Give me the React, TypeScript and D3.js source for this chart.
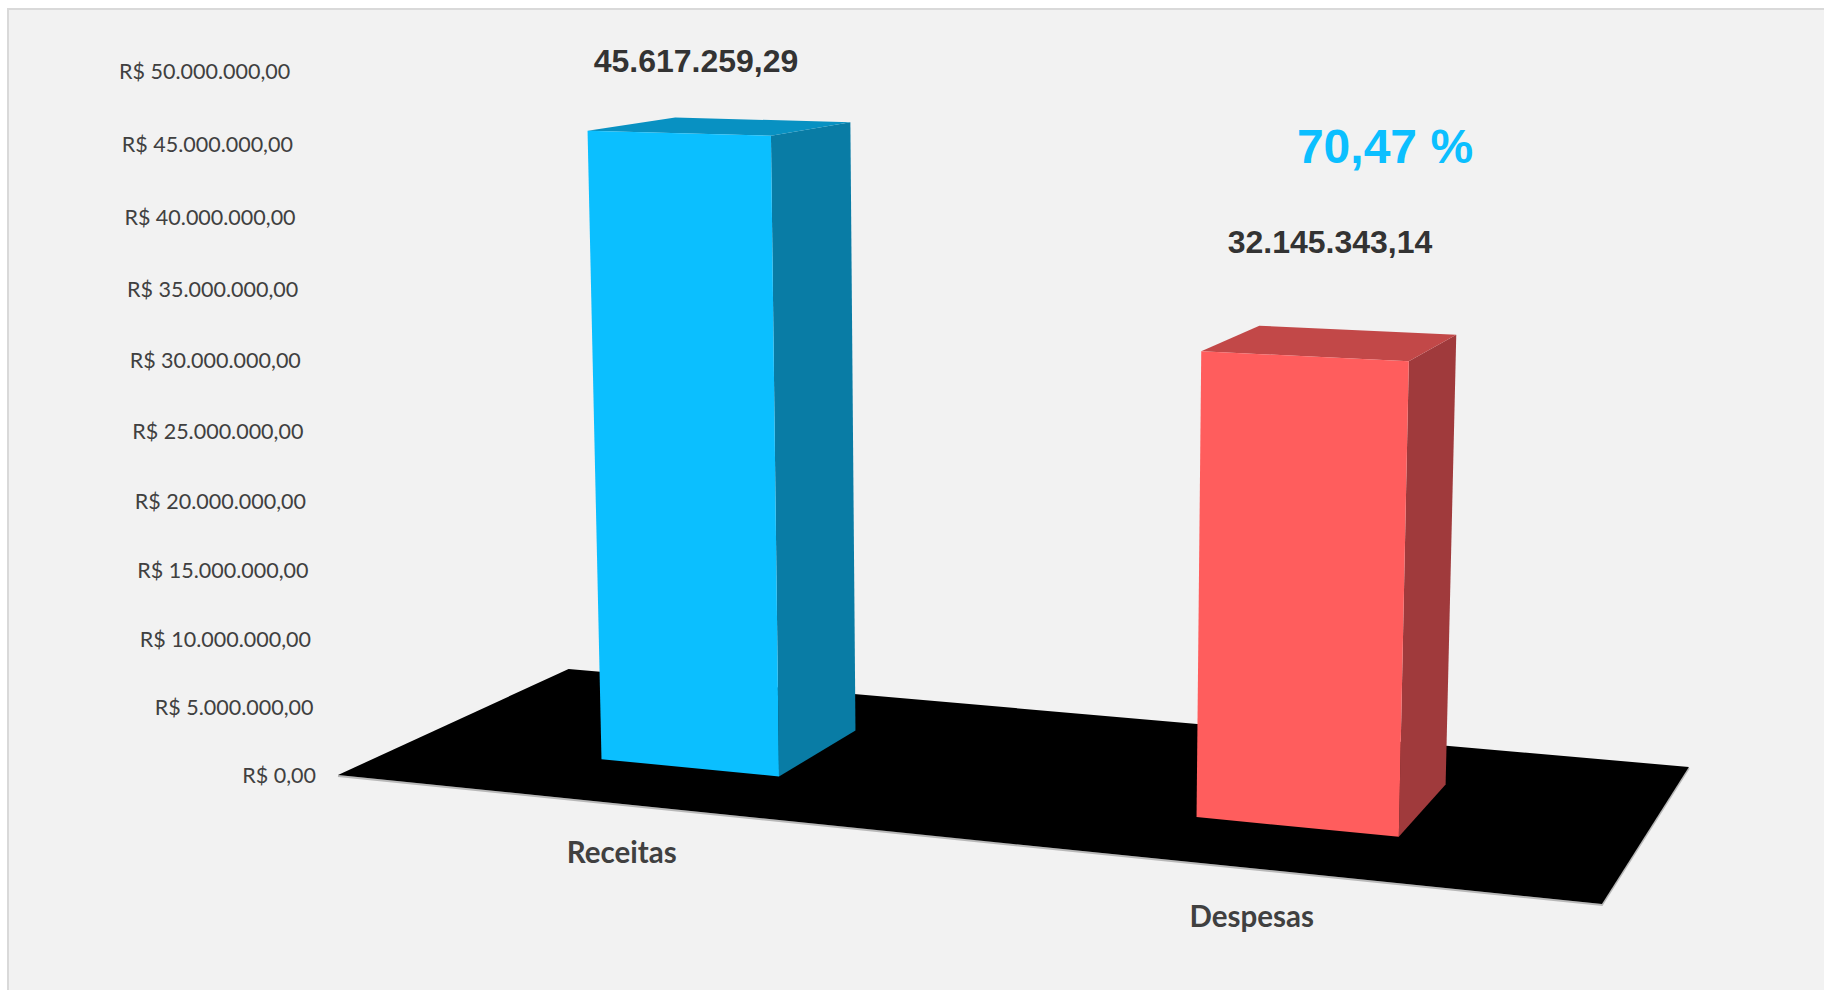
import React from "react";
import * as d3 from "d3";

const categories = ["Receitas", "Despesas"];
const seriesValues = [45617259.29, 32145343.14];
const valueLabels = ["45.617.259,29", "32.145.343,14"];
const tickValues = [0, 5e6, 10e6, 15e6, 20e6, 25e6, 30e6, 35e6, 40e6, 45e6, 50e6];
const ratioLabel = "70,47 %";

const frontColors = ["#0bbfff", "#ff5d5d"];
const topColors = ["#0891c2", "#c24848"];
const sideColors = ["#097ca5", "#a03a3c"];
const labelAnchors: [number, number][] = [[696, 72], [1330, 252.5]];

const W = 1824;
const H = 990;

// floor plane: unit square (u along categories, w in depth) mapped to the screen by a homography
const hg = { a: 1059.7, b: 309.1, c: 338, d: 13.7, e: -13.6, f: 775, g: -0.1275, h: 0.1381 };
const floorPoint = (u: number, w: number): [number, number] => {
  const k = hg.g * u + hg.h * w + 1;
  return [(hg.a * u + hg.b * w + hg.c) / k, (hg.d * u + hg.e * w + hg.f) / k];
};

const bandU = d3.scaleBand<string>().domain(categories).range([0.0012, 1.0012]).paddingInner(0.688).paddingOuter(0.344);
const depth = d3.scaleLinear().domain([0, 1]).range([0.295, 0.695]);
const unitValue = d3.scaleLinear().domain([0, 50e6]).range([0, 1]);

// vertical rise on the reference edge, foreshortened towards the top
const rise = (v: number) => {
  const t = unitValue(v);
  return (672.7 * t) / (1 - 0.0444 * t);
};

// lift a floor point by a value, with the perspective of the vertical lines
const lift = ([x, y]: [number, number], v: number): [number, number] => {
  const dy = rise(v) * (1 + (y - hg.f) * 0.0011);
  return [x + ((x - 1010) * dy) / 18400, y - dy];
};

const poly = (pts: [number, number][]) => (d3.line()(pts) as string) + "Z";

const brl = d3
  .formatLocale({ decimal: ",", thousands: ".", grouping: [3], currency: ["R$ ", ""] })
  .format("$,.2f");

export default function App() {
  const floor = [floorPoint(0, 0), floorPoint(1, 0), floorPoint(1, 1), floorPoint(0, 1)];
  const axisOrigin = floorPoint(0, 0);
  return (
    <svg width={W} height={H} viewBox={`0 0 ${W} ${H}`} style={{ position: "absolute", left: 0, top: 0, display: "block" }}>
      <rect width={W} height={H} fill="#ffffff" />
      <rect x={8} y={9} width={W} height={H} fill="#f2f2f2" stroke="#d9d9d9" strokeWidth={2} />

      {tickValues.map((v) => {
        const [x, y] = lift(axisOrigin, v);
        return (
          <text key={v} x={x - 22} y={y + 8} textAnchor="end" fontFamily="Lato, sans-serif" fontSize={21.5} fill="#404040">
            {brl(v)}
          </text>
        );
      })}

      <path d={d3.line()([floor[0], floor[1], floor[2]]) as string} transform="translate(0,1)" fill="none" stroke="#b8b8b8" strokeWidth={2} />
      <path d={poly(floor)} fill="#000000" />

      {categories.map((c, i) => {
        const u0 = bandU(c) as number;
        const u1 = u0 + bandU.bandwidth();
        const fl = floorPoint(u0, depth(0));
        const fr = floorPoint(u1, depth(0));
        const br = floorPoint(u1, depth(1));
        const bl = floorPoint(u0, depth(1));
        const v = seriesValues[i];
        return (
          <g key={c}>
            <path d={poly([fr, br, lift(br, v), lift(fr, v)])} fill={sideColors[i]} />
            <path d={poly([lift(fl, v), lift(fr, v), lift(br, v), lift(bl, v)])} fill={topColors[i]} />
            <path d={poly([fl, fr, lift(fr, v), lift(fl, v)])} fill={frontColors[i]} />
          </g>
        );
      })}

      {categories.map((c) => {
        const [x, y] = floorPoint((bandU(c) as number) + bandU.bandwidth() / 2, 0);
        return (
          <text key={c} x={x - 2.5} y={y + 59} textAnchor="middle" fontFamily="Lato, sans-serif" fontWeight={700} fontSize={29.5} fill="#404040">
            {c}
          </text>
        );
      })}

      {valueLabels.map((t, i) => (
        <text key={t} x={labelAnchors[i][0]} y={labelAnchors[i][1]} textAnchor="middle" fontFamily="Liberation Sans, Arial, sans-serif" fontWeight={700} fontSize={32} fill="#333333">
          {t}
        </text>
      ))}

      <text x={1385} y={163} textAnchor="middle" fontFamily="Liberation Sans, Arial, sans-serif" fontWeight={700} fontSize={48} fill="#0bbfff">
        {ratioLabel}
      </text>
    </svg>
  );
}
